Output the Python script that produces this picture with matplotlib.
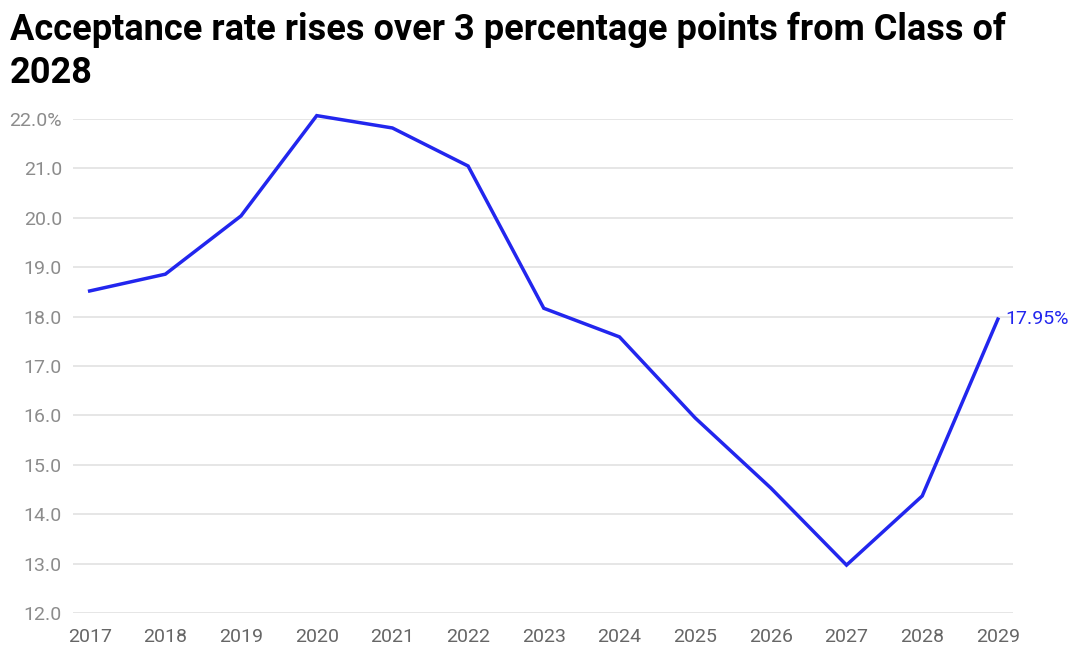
import matplotlib.pyplot as plt

years = [2017, 2018, 2019, 2020, 2021, 2022, 2023, 2024, 2025, 2026, 2027, 2028, 2029]
rate = [18.52, 18.86, 20.04, 22.07, 21.82, 21.05, 18.17, 17.59, 15.95, 14.53, 12.97, 14.37, 17.95]
yticks = [12, 13, 14, 15, 16, 17, 18, 19, 20, 21, 22]
ylabels = ['12.0', '13.0', '14.0', '15.0', '16.0', '17.0', '18.0', '19.0', '20.0', '21.0', '22.0%']

plt.rcParams['font.family'] = ['Roboto', 'DejaVu Sans']
blue = '#2226ee'

fig = plt.figure(figsize=(10.8, 6.69), dpi=100)
ax = fig.add_axes([0.0676, 0.0837, 0.8704, 0.7383])

ax.plot(years, rate, color=blue, lw=2.5, clip_on=False, solid_joinstyle='miter', zorder=3)
ax.text(years[-1] + 0.1, rate[-1], '17.95%', color=blue, fontsize=14,
        ha='left', va='center')

ax.set_xlim(years[0] - 0.22, years[-1] + 0.2)
ax.set_ylim(12, 22)
ax.set_yticks(yticks)
ax.set_yticklabels(ylabels)
ax.set_xticks(years)
ax.set_xticklabels([str(y) for y in years])
ax.grid(axis='y', color='#e2e2e2', lw=1.2)
ax.set_axisbelow(True)
for s in ax.spines.values():
    s.set_visible(False)
ax.tick_params(axis='y', length=0, pad=8, labelsize=14, labelcolor='#8c8c8c')
ax.tick_params(axis='x', length=0, pad=11, labelsize=14, labelcolor='#666666')

fig.text(0.009, 0.983, 'Acceptance rate rises over 3 percentage points from Class of\n2028',
         fontsize=26, fontweight='bold', ha='left', va='top', linespacing=1.25)

fig.savefig('out.png', dpi=100)
